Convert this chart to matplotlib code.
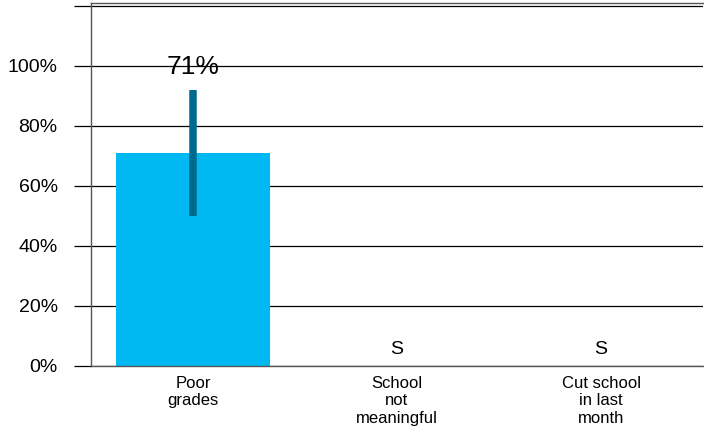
import matplotlib.pyplot as plt

plt.rcParams["font.family"] = ["Liberation Sans", "DejaVu Sans"]

categories = ["Poor\ngrades", "School\nnot\nmeaningful", "Cut school\nin last\nmonth"]
values = [71, None, None]
err_low = [50, None, None]
err_high = [92, None, None]
bar_labels = ["71%", "S", "S"]
y_ticks = [0, 20, 40, 60, 80, 100, 120]
y_tick_labels = ["0%", "20%", "40%", "60%", "80%", "100%", ""]

fig = plt.figure(figsize=(7.04, 4.37), dpi=100)
ax = fig.add_axes([91 / 704, 1 - 366 / 437, 612 / 704, 363 / 437])

xs = list(range(len(categories)))
heights = [v if v is not None else 0 for v in values]
ax.bar(xs, heights, width=0.755, color="#00b9f2", zorder=2)

for x, v, lo, hi, lab in zip(xs, values, err_low, err_high, bar_labels):
    if v is None:
        ax.text(x, 2.5, lab, ha="center", va="bottom", fontsize=14)
        continue
    ax.plot([x, x], [lo, hi], color="#006a8e", linewidth=5.4,
            solid_capstyle="butt", zorder=3)
    ax.text(x, 99.5, lab, ha="center", va="center", fontsize=19)

ax.set_xlim(-0.5, 2.5)
ax.set_ylim(0, 121)
ax.set_yticks(y_ticks)
ax.set_yticklabels(y_tick_labels, fontsize=14)
ax.set_xticks(xs)
ax.set_xticklabels(categories, fontsize=12, linespacing=1.2)
ax.yaxis.grid(True, color="black", linewidth=0.9, zorder=0)
ax.set_axisbelow(True)
ax.tick_params(axis="y", length=12, width=0.9, color="black", pad=12)
ax.tick_params(axis="x", length=0, pad=7)

ax.spines["right"].set_visible(False)
for side in ["left", "top", "bottom"]:
    ax.spines[side].set_color("#555555")
    ax.spines[side].set_linewidth(1.0)

fig.savefig("out.png", dpi=100)
